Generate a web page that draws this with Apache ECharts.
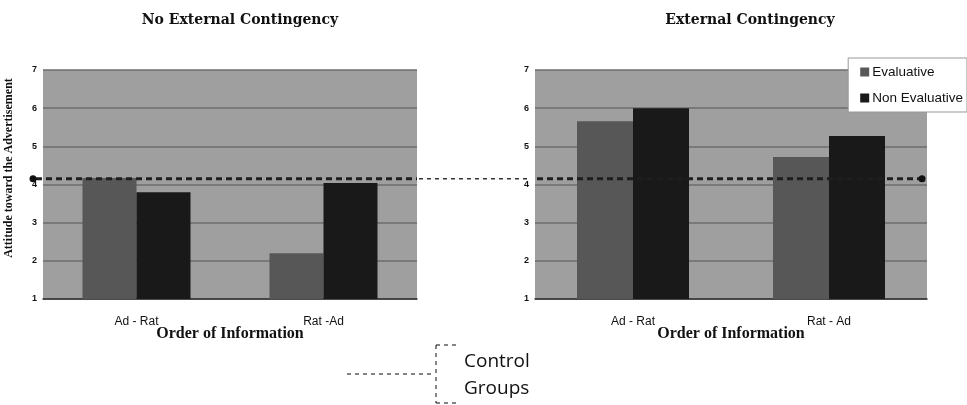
<!DOCTYPE html>
<html>
<head>
<meta charset="utf-8">
<style>html,body{margin:0;padding:0;background:#fff}#c{width:967px;height:405px}</style>
<script src="https://cdn.jsdelivr.net/npm/echarts@6/dist/echarts.min.js"></script>
</head>
<body>
<div id="c"></div>
<script>
const categoriesLeft = ['Ad - Rat', 'Rat -Ad'];
const categoriesRight = ['Ad - Rat', 'Rat - Ad'];
const seriesNames = ['Evaluative', 'Non Evaluative'];
const noContEval = [4.17, 2.2];
const noContNonEval = [3.8, 4.04];
const contEval = [5.66, 4.72];
const contNonEval = [6.0, 5.27];
const controlValue = 4.15;
const yTicks = [1, 7, 1]; // min, max, interval
const titles = ['No External Contingency', 'External Contingency'];
const yName = 'Attitude toward the Advertisement';
const xName = 'Order of Information';
const annotation = ['Control', 'Groups'];

const chart = echarts.init(document.getElementById('c'), null, {renderer: 'canvas'});
const evalColor = '#575757';
const nonEvalColor = '#191919';
const bg = '#9f9f9f';
const gridColor = '#6c6c6c';

function yAxis(idx) {
  return {
    type: 'value', gridIndex: idx, min: yTicks[0], max: yTicks[1], interval: yTicks[2],
    axisLine: {show: false}, axisTick: {show: false},
    axisLabel: {color: '#111', fontFamily: 'Arial, Liberation Sans', fontWeight: 'bold', fontSize: 9, margin: 6},
    splitLine: {lineStyle: {color: gridColor, width: 1.5}}
  };
}
function xAxis(idx, cats) {
  return {
    type: 'category', gridIndex: idx, data: cats,
    axisLine: {lineStyle: {color: '#333', width: 1.5}}, axisTick: {show: false},
    axisLabel: {color: '#111', fontFamily: 'Arial, Liberation Sans', fontSize: 12, margin: 17},
    name: xName, nameLocation: 'middle', nameGap: 27, nameMoveOverlap: false,
    nameTextStyle: {fontFamily: 'Liberation Serif', fontWeight: 'bold', fontSize: 16, color: '#111'}
  };
}
const titleStyle = {fontFamily: 'DejaVu Serif', fontWeight: 'bold', fontSize: 14, color: '#111'};

chart.setOption({
  animation: false,
  backgroundColor: '#fff',
  title: [
    {text: titles[0], left: 235, top: 8, textAlign: 'center', textStyle: titleStyle},
    {text: titles[1], left: 745, top: 8, textAlign: 'center', textStyle: titleStyle}
  ],
  legend: {
    data: seriesNames, orient: 'vertical', right: 0, top: 58,
    backgroundColor: '#fff', borderColor: '#999', borderWidth: 1,
    padding: [7, 4, 7, 12], itemGap: 12, itemWidth: 9, itemHeight: 9,
    icon: 'rect',
    textStyle: {fontFamily: 'Arial, Liberation Sans', fontSize: 13.5, color: '#111', padding: [0, 0, 0, -2]}
  },
  grid: [
    {left: 43, right: 550, top: 70, bottom: 106, show: true, backgroundColor: bg, borderWidth: 0},
    {left: 535, right: 40, top: 70, bottom: 106, show: true, backgroundColor: bg, borderWidth: 0}
  ],
  xAxis: [xAxis(0, categoriesLeft), xAxis(1, categoriesRight)],
  yAxis: [yAxis(0), yAxis(1)],
  series: [
    {name: seriesNames[0], type: 'bar', xAxisIndex: 0, yAxisIndex: 0, data: noContEval, barWidth: 54, barGap: '0%', itemStyle: {color: evalColor}},
    {name: seriesNames[1], type: 'bar', xAxisIndex: 0, yAxisIndex: 0, data: noContNonEval, barWidth: 54, barGap: '0%', itemStyle: {color: nonEvalColor}},
    {name: seriesNames[0], type: 'bar', xAxisIndex: 1, yAxisIndex: 1, data: contEval, barWidth: 56, barGap: '0%', itemStyle: {color: evalColor}},
    {name: seriesNames[1], type: 'bar', xAxisIndex: 1, yAxisIndex: 1, data: contNonEval, barWidth: 56, barGap: '0%', itemStyle: {color: nonEvalColor}}
  ]
});

// Control line built from the library's scales
const yPix = chart.convertToPixel({yAxisIndex: 0}, controlValue);
const leftEnd = 967 - 550;
const rightStart = 535, rightEnd = 967 - 40;
const dashStyle = {stroke: '#1e1e1e', lineWidth: 3, lineDash: [6, 4]};
const annStyle = {stroke: '#333', lineWidth: 1.2, lineDash: [4, 4]};
chart.setOption({
  graphic: [
    {type: 'text', rotation: Math.PI / 2, x: 9, y: 168,
     style: {text: yName, font: 'bold 12px "Liberation Serif"', fill: '#111', align: 'center', verticalAlign: 'middle'}},
    {type: 'line', shape: {x1: 36, y1: yPix, x2: leftEnd, y2: yPix}, style: dashStyle, z: 100},
    {type: 'line', shape: {x1: leftEnd + 2, y1: yPix, x2: rightStart - 6, y2: yPix}, style: {stroke: '#333', lineWidth: 1.5, lineDash: [4, 4]}, z: 100},
    {type: 'line', shape: {x1: rightStart + 2, y1: yPix, x2: rightEnd - 6, y2: yPix}, style: dashStyle, z: 100},
    {type: 'circle', shape: {cx: 33, cy: yPix, r: 3.5}, style: {fill: '#111'}, z: 101},
    {type: 'circle', shape: {cx: 922, cy: yPix, r: 3.5}, style: {fill: '#111'}, z: 101},
    // Control groups annotation
    {type: 'line', shape: {x1: 347, y1: 374, x2: 433, y2: 374}, style: annStyle},
    {type: 'line', shape: {x1: 436, y1: 345, x2: 436, y2: 403}, style: annStyle},
    {type: 'line', shape: {x1: 436, y1: 345, x2: 458, y2: 345}, style: annStyle},
    {type: 'line', shape: {x1: 436, y1: 403, x2: 458, y2: 403}, style: annStyle},
    {type: 'text', left: 464, top: 352, style: {text: annotation[0], font: '19px "Open Sans"', fill: '#111'}},
    {type: 'text', left: 464, top: 379, style: {text: annotation[1], font: '19px "Open Sans"', fill: '#111'}}
  ]
});
</script>
</body>
</html>
